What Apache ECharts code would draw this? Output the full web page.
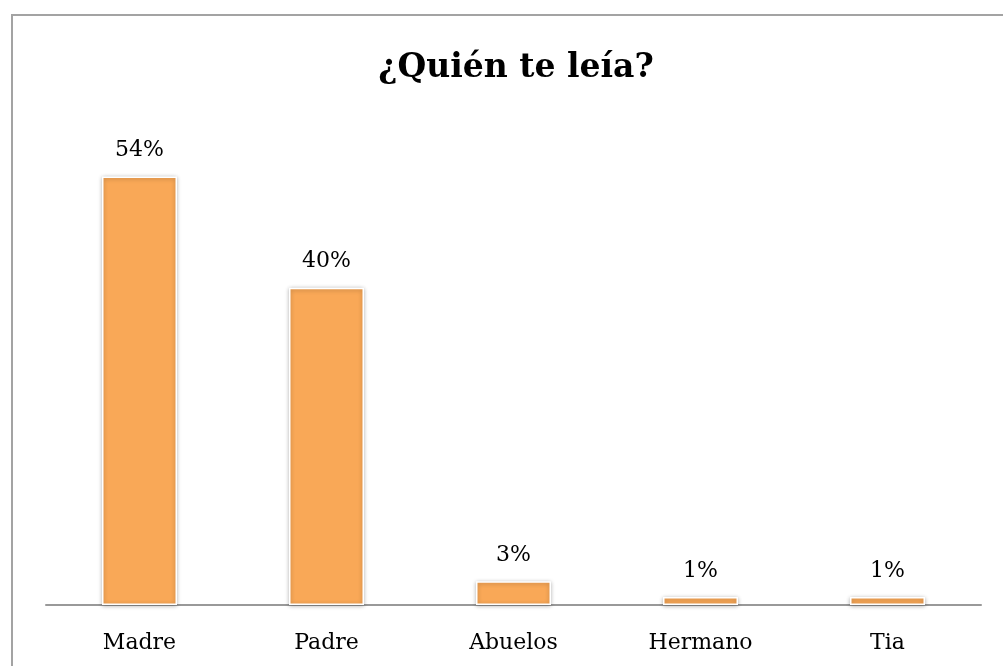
<!DOCTYPE html>
<html>
<head>
<meta charset="utf-8">
<script src="https://cdn.jsdelivr.net/npm/echarts@6/dist/echarts.min.js"></script>
<style>
  html, body { margin: 0; padding: 0; background: #fff; }
  #chart { width: 1003px; height: 666px; }
</style>
</head>
<body>
<div id="chart"></div>
<script>
// Who read to you as a child — share of answers per person
const titleText = '¿Quién te leía?';
const categories = ['Madre', 'Padre', 'Abuelos', 'Hermano', 'Tia'];
const values = [54, 40, 3, 1, 1];

const FONT = '"DejaVu Serif", serif';
const chart = echarts.init(document.getElementById('chart'), null, { renderer: 'canvas' });

chart.setOption({
  backgroundColor: '#ffffff',
  animation: false,
  title: {
    text: titleText,
    left: 511,
    top: 47,
    textAlign: 'center',
    textStyle: { fontFamily: FONT, fontWeight: 'bold', fontSize: 33, color: '#000' }
  },
  graphic: [{
    type: 'rect',
    shape: { x: 12, y: 15, width: 1010, height: 700 },
    style: { fill: 'none', stroke: '#a3a3a3', lineWidth: 2 },
    silent: true,
    z: -1
  }],
  grid: { left: 46, right: 22, top: 129, bottom: 61, containLabel: false },
  xAxis: {
    type: 'category',
    data: categories,
    axisLine: { show: true, lineStyle: { color: '#999999', width: 2 } },
    axisTick: { show: false },
    axisLabel: { fontFamily: FONT, fontSize: 22, color: '#000', margin: 27 },
    splitLine: { show: false }
  },
  yAxis: {
    type: 'value',
    min: 0,
    max: 60,
    show: false,
    splitLine: { show: false }
  },
  series: [{
    type: 'bar',
    data: values,
    barWidth: 75,
    itemStyle: {
      color: '#f9a857',
      borderColor: '#ffffff',
      borderWidth: 1.5,
      shadowBlur: 4,
      shadowColor: 'rgba(0,0,0,0.3)',
      shadowOffsetX: 0,
      shadowOffsetY: 1
    },
    label: {
      show: true,
      position: 'top',
      distance: 15,
      formatter: p => p.value + '%',
      fontFamily: FONT,
      fontSize: 22,
      color: '#000'
    }
  }]
});
</script>
</body>
</html>
